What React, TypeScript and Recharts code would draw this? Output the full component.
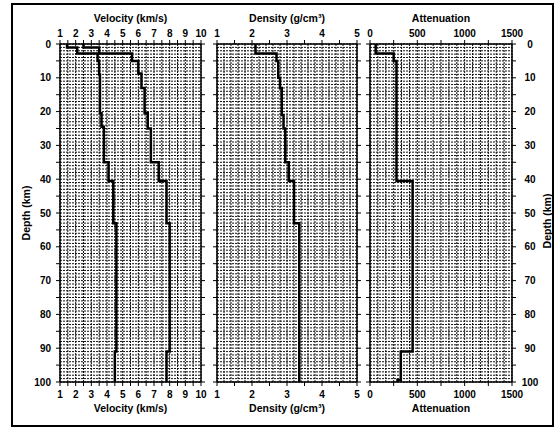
import React from 'react'
import { LineChart, Line, XAxis, YAxis, CartesianGrid } from 'recharts'

// layer tops/bottoms (km) and the value inside each layer
const vsBounds = [0, 1, 2.8, 5, 9, 20.5, 24.5, 35, 40.5, 53, 91, 100]
const vsValues = [1.45, 2.1, 3.4, 3.5, 3.55, 3.65, 3.8, 4.1, 4.4, 4.6, 4.5]

const vpBounds = [0, 1, 2.8, 5, 8.7, 13, 20.5, 25, 35, 40.5, 53, 91, 100]
const vpValues = [2.5, 3.5, 5.6, 6.0, 6.2, 6.4, 6.6, 6.8, 7.3, 7.8, 8.0, 7.8]

const rhoBounds = [0, 2.8, 5, 10, 13, 21, 25, 35, 40.5, 53, 100]
const rhoValues = [2.1, 2.7, 2.75, 2.8, 2.85, 2.9, 2.95, 3.05, 3.2, 3.35]

const qBounds = [0, 2.8, 5, 40.5, 91, 99.4, 100]
const qValues = [60, 250, 280, 450, 325, 290]

// axis ticks
const depthTicks = [0, 5, 10, 15, 20, 25, 30, 35, 40, 45, 50, 55, 60, 65, 70, 75, 80, 85, 90, 95, 100]
const velocityTicks = [1, 1.5, 2, 2.5, 3, 3.5, 4, 4.5, 5, 5.5, 6, 6.5, 7, 7.5, 8, 8.5, 9, 9.5, 10]
const densityTicks = [1, 1.5, 2, 2.5, 3, 3.5, 4, 4.5, 5]
const attenuationTicks = [0, 250, 500, 750, 1000, 1250, 1500]
const attenuationLabels = [0, 500, 1000, 1500]

// dense background grid
const gridDepth = Array.from({ length: 101 }, (_, i) => i)
const gridVelocity = Array.from({ length: 19 }, (_, i) => 1 + i * 0.5)
const gridDensity = Array.from({ length: 21 }, (_, i) => 1 + i * 0.2)
const gridAttenuation = Array.from({ length: 19 }, (_, i) => (i * 250) / 3)

const W = 557
const H = 428
const PLOT_TOP = 44
const PLOT_BOTTOM = 382
const font = '"Liberation Sans", Arial, Helvetica, sans-serif'

function toSteps(bounds: number[], values: number[]) {
  const pts: { depth: number; v: number }[] = []
  values.forEach((v, i) => {
    pts.push({ depth: bounds[i], v })
    pts.push({ depth: bounds[i + 1], v })
  })
  return pts
}

const applyScale = (scale: any, v: number) =>
  typeof scale === 'function' ? scale(v) : scale?.map ? scale.map(v) : 0

const xTick = (pos: 'top' | 'bottom', show: (v: number) => boolean) => (p: any) => {
  const v = p.payload.value
  if (!show(v)) return <g />
  return (
    <text
      x={p.x}
      y={pos === 'top' ? p.y - 1.5 : p.y + 9.5}
      textAnchor="middle"
      fontSize={10}
      fontWeight="bold"
      fontFamily={font}
      fill="#000"
    >
      {v}
    </text>
  )
}

const yTick = (side: 'left' | 'right', labels: boolean) => (p: any) => {
  const v = p.payload.value
  if (!labels || v % 10 !== 0) return <g />
  return (
    <text
      x={side === 'left' ? p.x : p.x + 6}
      y={p.y + 3.5}
      textAnchor={side === 'left' ? 'end' : 'middle'}
      fontSize={10}
      fontWeight="bold"
      fontFamily={font}
      fill="#000"
    >
      {v}
    </text>
  )
}

interface PanelProps {
  left: number
  right: number
  domain: [number, number]
  ticks: number[]
  showX: (v: number) => boolean
  grid: number[]
  series: { depth: number; v: number }[][]
  leftLabels?: boolean
  rightLabels?: boolean
}

function Panel({ left, right, domain, ticks, showX, grid, series, leftLabels, rightLabels }: PanelProps) {
  const axisLine = { stroke: '#000', strokeWidth: 1.5 }
  const tickLine = { stroke: '#000', strokeWidth: 1 }
  return (
    <div style={{ position: 'absolute', left: 0, top: 0 }}>
      <LineChart
        width={W}
        height={H}
        layout="vertical"
        margin={{ top: PLOT_TOP - 1, bottom: H - PLOT_BOTTOM - 1, left: left - 1, right: W - right - 1 }}
      >
        <CartesianGrid
          xAxisId="bottom"
          yAxisId="left"
          stroke="#111"
          strokeWidth={1}
          strokeDasharray="2 1"
          fill="#fff"
          verticalCoordinatesGenerator={({ xAxis }: any) => grid.map((v) => applyScale(xAxis.scale, v))}
          horizontalCoordinatesGenerator={({ yAxis }: any) => gridDepth.map((v) => applyScale(yAxis.scale, v))}
        />
        <XAxis
          xAxisId="top"
          orientation="top"
          type="number"
          domain={domain}
          allowDataOverflow
          ticks={ticks}
          interval={0}
          height={1}
          tickSize={4}
          axisLine={axisLine}
          tickLine={tickLine}
          tick={xTick('top', showX)}
        />
        <XAxis
          xAxisId="bottom"
          orientation="bottom"
          type="number"
          domain={domain}
          allowDataOverflow
          ticks={ticks}
          interval={0}
          height={1}
          tickSize={4}
          axisLine={axisLine}
          tickLine={tickLine}
          tick={xTick('bottom', showX)}
        />
        <YAxis
          yAxisId="left"
          orientation="left"
          type="number"
          dataKey="depth"
          domain={[0, 100]}
          allowDataOverflow
          ticks={depthTicks}
          interval={0}
          width={1}
          tickSize={4}
          tickMargin={5}
          axisLine={axisLine}
          tickLine={tickLine}
          tick={yTick('left', !!leftLabels)}
        />
        <YAxis
          yAxisId="right"
          orientation="right"
          type="number"
          dataKey="depth"
          domain={[0, 100]}
          allowDataOverflow
          ticks={depthTicks}
          interval={0}
          width={1}
          tickSize={4}
          tickMargin={8}
          axisLine={axisLine}
          tickLine={tickLine}
          tick={yTick('right', !!rightLabels)}
        />
        {/* invisible copy so the top and right axes get a scale */}
        <Line
          data={series[0]}
          xAxisId="top"
          yAxisId="right"
          dataKey="v"
          stroke="none"
          dot={false}
          isAnimationActive={false}
        />
        {series.map((d, i) => (
          <Line
            key={i}
            data={d}
            xAxisId="bottom"
            yAxisId="left"
            dataKey="v"
            type="linear"
            stroke="#000"
            strokeWidth={2.5}
            strokeLinejoin="miter"
            dot={false}
            isAnimationActive={false}
          />
        ))}
      </LineChart>
    </div>
  )
}

const titleStyle = (cx: number, top: number): React.CSSProperties => ({
  position: 'absolute',
  left: cx - 70,
  top,
  width: 140,
  textAlign: 'center',
  fontFamily: font,
  fontWeight: 'bold',
  fontSize: 10.5,
  lineHeight: '12px',
  color: '#000',
  whiteSpace: 'nowrap',
})

const depthStyle = (cx: number, cy: number): React.CSSProperties => ({
  ...titleStyle(cx, cy - 6),
  transform: 'rotate(-90deg)',
  transformOrigin: '50% 50%',
})

const panels = [
  { left: 60, right: 201, title: 'Velocity (km/s)' },
  { left: 217, right: 357, title: 'Density (g/cm³)' },
  { left: 370, right: 512, title: 'Attenuation' },
]

export default function App() {
  return (
    <div style={{ position: 'absolute', left: 0, top: 0, width: W, height: H, background: '#fff', overflow: 'hidden' }}>
      <div
        style={{
          position: 'absolute',
          left: 11,
          top: 3,
          width: 543,
          height: 424,
          border: '2px solid #000',
          boxSizing: 'border-box',
        }}
      />
      <Panel
        left={60}
        right={201}
        domain={[1, 10]}
        ticks={velocityTicks}
        showX={(v) => Number.isInteger(v)}
        grid={gridVelocity}
        series={[toSteps(vsBounds, vsValues), toSteps(vpBounds, vpValues)]}
        leftLabels
      />
      <Panel
        left={217}
        right={357}
        domain={[1, 5]}
        ticks={densityTicks}
        showX={(v) => Number.isInteger(v)}
        grid={gridDensity}
        series={[toSteps(rhoBounds, rhoValues)]}
      />
      <Panel
        left={370}
        right={512}
        domain={[0, 1500]}
        ticks={attenuationTicks}
        showX={(v) => attenuationLabels.includes(v)}
        grid={gridAttenuation}
        series={[toSteps(qBounds, qValues)]}
        rightLabels
      />
      {panels.map((p) => (
        <React.Fragment key={p.title}>
          <div style={titleStyle((p.left + p.right) / 2, 12)}>{p.title}</div>
          <div style={titleStyle((p.left + p.right) / 2, 402)}>{p.title}</div>
        </React.Fragment>
      ))}
      <div style={depthStyle(26, 213)}>Depth (km)</div>
      <div style={depthStyle(547, 221)}>Depth (km)</div>
    </div>
  )
}
